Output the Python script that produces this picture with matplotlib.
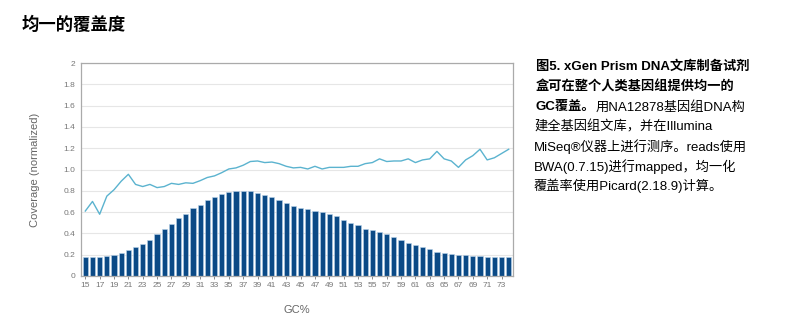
import numpy as np
import matplotlib
matplotlib.use('Agg')
import matplotlib.pyplot as plt

plt.rcParams['font.family'] = ['Liberation Sans', 'Noto Sans CJK SC', 'DejaVu Sans']

# GC含量 15%~74%
gc = list(range(15, 75))

# 每个GC区间的读段比例（柱）
reads_frac = [0.18, 0.18, 0.18, 0.19, 0.20, 0.22, 0.24, 0.27, 0.30, 0.34,
              0.39, 0.44, 0.49, 0.54, 0.585, 0.635, 0.67, 0.71, 0.74, 0.77,
              0.79, 0.80, 0.80, 0.80, 0.78, 0.76, 0.74, 0.71, 0.69, 0.66,
              0.64, 0.63, 0.61, 0.60, 0.58, 0.56, 0.53, 0.50, 0.48, 0.44,
              0.43, 0.41, 0.39, 0.37, 0.34, 0.31, 0.29, 0.27, 0.25, 0.23,
              0.22, 0.21, 0.20, 0.20, 0.19, 0.19, 0.18, 0.18, 0.18, 0.18]

# 归一化覆盖度（折线）
coverage = [0.61, 0.70, 0.58, 0.75, 0.81, 0.89, 0.955, 0.86, 0.84, 0.86,
            0.83, 0.84, 0.87, 0.86, 0.875, 0.87, 0.895, 0.925, 0.94, 0.97,
            1.005, 1.015, 1.04, 1.075, 1.08, 1.065, 1.07, 1.055, 1.03, 1.015,
            1.02, 1.005, 1.03, 1.005, 1.02, 1.02, 1.02, 1.03, 1.03, 1.055,
            1.065, 1.10, 1.075, 1.08, 1.08, 1.10, 1.065, 1.09, 1.10, 1.17,
            1.10, 1.08, 1.02, 1.09, 1.13, 1.19, 1.09, 1.11, 1.15, 1.19]

y_ticks = [0, 0.2, 0.4, 0.6, 0.8, 1.0, 1.2, 1.4, 1.6, 1.8, 2]
y_tick_labels = ['0', '0.2', '0.4', '0.6', '0.8', '1.0', '1.2', '1.4', '1.6', '1.8', '2']

fig = plt.figure(figsize=(8.03, 3.25), dpi=100)
ax = fig.add_axes([81 / 803, 1 - 276 / 325, 432 / 803, 213 / 325])

ax.bar(gc, reads_frac, width=0.72, color='#0b4a86', edgecolor='#b9d3ea', linewidth=0.4, zorder=2)
ax.plot(gc, coverage, color='#5bb3cf', linewidth=1.0, zorder=3)

ax.set_xlim(14.4, 74.6)
ax.set_ylim(0, 2)
ax.set_yticks(y_ticks)
ax.set_yticklabels(y_tick_labels)
ax.set_xticks(gc[::2])
ax.tick_params(axis='both', labelsize=6, colors='#777777', length=2.5, width=0.6, pad=2)
ax.tick_params(axis='y', length=0, pad=4)
ax.grid(axis='y', color='#e6e6e6', linewidth=0.8, zorder=0)
ax.set_axisbelow(True)
for side in ['left', 'bottom', 'top', 'right']:
    ax.spines[side].set_color('#aaaaaa')
    ax.spines[side].set_linewidth(0.9)

ax.set_ylabel('Coverage (normalized)', fontsize=8, color='#666666', labelpad=17)
fig.text(297 / 803, 1 - 310 / 325, 'GC%', fontsize=8, color='#666666', ha='center', va='center')

fig.text(22 / 803, 1 - 25 / 325, '均一的覆盖度', fontsize=12.5, fontweight='bold',
         family=['Noto Sans CJK SC'], ha='left', va='center')

# 右侧图注
x0 = 536 / 803
lines_bold = ['图5. xGen Prism DNA文库制备试剂', '盒可在整个人类基因组提供均一的']
lines_rest = ['建全基因组文库，并在Illumina', 'MiSeq®仪器上进行测序。reads使用',
              'BWA(0.7.15)进行mapped，均一化', '覆盖率使用Picard(2.18.9)计算。']
y_pos = [67, 87, 107, 127, 147, 167, 186]
fs = 9.5
for i, s in enumerate(lines_bold):
    fig.text(x0, 1 - y_pos[i] / 325, s, fontsize=fs, fontweight='bold', ha='left', va='center')
t = fig.text(x0, 1 - y_pos[2] / 325, 'GC覆盖。', fontsize=fs, fontweight='bold', ha='left', va='center')
fig.canvas.draw()
bb = t.get_window_extent()
fig.text(bb.x1 / fig.bbox.width, 1 - y_pos[2] / 325, '用NA12878基因组DNA构', fontsize=fs,
         ha='left', va='center')
for i, s in enumerate(lines_rest):
    fig.text(x0 - 2 / 803, 1 - y_pos[3 + i] / 325, s, fontsize=fs, ha='left', va='center')

fig.savefig('out.png', dpi=100)
